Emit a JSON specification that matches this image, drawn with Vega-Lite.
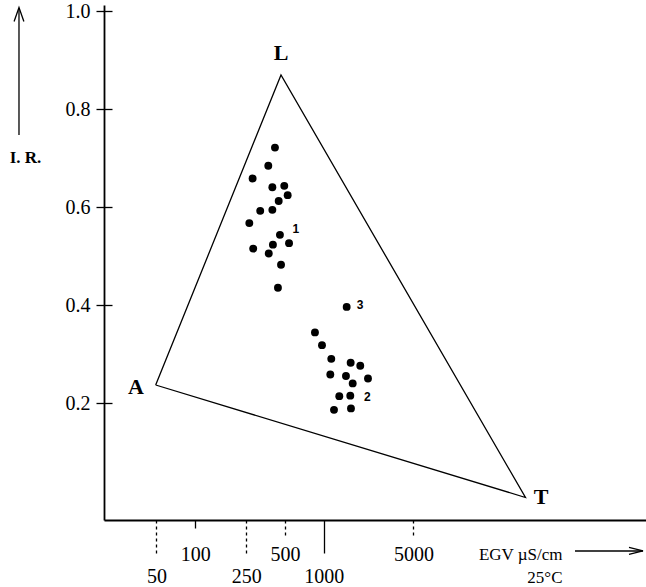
{
  "$schema": "https://vega.github.io/schema/vega-lite/v6.json",
  "width": 542,
  "height": 515,
  "autosize": {"type": "none"},
  "padding": {"left": 104, "top": 5, "right": 0, "bottom": 67},
  "background": "white",
  "config": {
    "view": {"stroke": null},
    "font": "Liberation Serif",
    "axis": {"grid": false, "domainColor": "black", "tickColor": "black", "labelColor": "black", "titleColor": "black"}
  },
  "datasets": {
    "vertices": [
      {"vertex": "A", "egv": 49.3, "ir": 0.2377, "o": 1},
      {"vertex": "L", "egv": 465.7, "ir": 0.870, "o": 2},
      {"vertex": "T", "egv": 37220, "ir": 0.0082, "o": 3},
      {"vertex": "A", "egv": 49.3, "ir": 0.2377, "o": 4}
    ],
    "samples": [
      {"group": 1, "egv": 418, "ir": 0.722},
      {"group": 1, "egv": 371, "ir": 0.685},
      {"group": 1, "egv": 280, "ir": 0.659},
      {"group": 1, "egv": 399, "ir": 0.641},
      {"group": 1, "egv": 494, "ir": 0.644},
      {"group": 1, "egv": 525, "ir": 0.625},
      {"group": 1, "egv": 447, "ir": 0.613},
      {"group": 1, "egv": 321, "ir": 0.593},
      {"group": 1, "egv": 399, "ir": 0.595},
      {"group": 1, "egv": 264, "ir": 0.568},
      {"group": 1, "egv": 457, "ir": 0.544},
      {"group": 1, "egv": 403, "ir": 0.524},
      {"group": 1, "egv": 538, "ir": 0.527},
      {"group": 1, "egv": 283, "ir": 0.516},
      {"group": 1, "egv": 374, "ir": 0.506},
      {"group": 1, "egv": 466, "ir": 0.483},
      {"group": 1, "egv": 441, "ir": 0.436},
      {"group": 3, "egv": 1511, "ir": 0.397},
      {"group": 2, "egv": 856, "ir": 0.345},
      {"group": 2, "egv": 971, "ir": 0.319},
      {"group": 2, "egv": 1147, "ir": 0.291},
      {"group": 2, "egv": 1623, "ir": 0.283},
      {"group": 2, "egv": 1928, "ir": 0.277},
      {"group": 2, "egv": 1127, "ir": 0.259},
      {"group": 2, "egv": 1492, "ir": 0.256},
      {"group": 2, "egv": 1683, "ir": 0.241},
      {"group": 2, "egv": 2214, "ir": 0.251},
      {"group": 2, "egv": 1324, "ir": 0.215},
      {"group": 2, "egv": 1612, "ir": 0.216},
      {"group": 2, "egv": 1204, "ir": 0.187},
      {"group": 2, "egv": 1632, "ir": 0.190}
    ],
    "letters": [
      {"label": "A", "egv": 34.65, "ir": 0.2336},
      {"label": "L", "egv": 465.7, "ir": 0.915},
      {"label": "T", "egv": 49150, "ir": 0.0092}
    ],
    "groups": [
      {"label": "1", "egv": 609, "ir": 0.556},
      {"label": "2", "egv": 2186, "ir": 0.213},
      {"label": "3", "egv": 1918, "ir": 0.401}
    ],
    "one": [{}]
  },
  "layer": [
    {
      "data": {"name": "vertices"},
      "mark": {"type": "line", "color": "black", "strokeWidth": 1.3, "clip": false},
      "encoding": {
        "x": {"field": "egv", "type": "quantitative",
          "scale": {"type": "log", "domain": [19.53, 322700], "nice": false},
          "axis": {"orient": "bottom", "values": [100, 500, 5000], "format": "d", "ticks": false, "domain": true, "domainWidth": 1.8,
            "labelPadding": 24, "labelFont": "Liberation Serif", "labelFontSize": 20, "labelFlush": false, "labelOverlap": false,
            "title": ["EGV µS/cm", "25°C"], "titleX": 458, "titleY": 39, "titleAlign": "right", "titleBaseline": "alphabetic",
            "titleFont": "Liberation Serif", "titleFontSize": 17, "titleFontWeight": "normal", "titleLineHeight": 23, "titleAngle": 0}},
        "y": {"field": "ir", "type": "quantitative",
          "scale": {"domain": [-0.0377, 1.0129], "nice": false, "zero": false},
          "axis": {"orient": "left", "values": [0.2, 0.4, 0.6, 0.8, 1.0], "format": ".1f", "tickSize": 8, "tickWidth": 1.3, "domainWidth": 1.8,
            "labelPadding": 6, "labelFont": "Liberation Serif", "labelFontSize": 20,
            "title": "I. R.", "titleAngle": 0, "titleX": -79, "titleY": 152, "titleAlign": "center", "titleBaseline": "middle",
            "titleFont": "Liberation Serif", "titleFontSize": 17, "titleFontWeight": "bold"}},
        "order": {"field": "o", "type": "quantitative"}
      }
    },
    {
      "data": {"name": "samples"},
      "mark": {"type": "circle", "color": "black", "opacity": 1, "size": 62, "clip": false},
      "encoding": {
        "x": {"field": "egv", "type": "quantitative",
          "scale": {"type": "log", "domain": [19.53, 322700], "nice": false},
          "axis": {"orient": "bottom", "values": [50, 250, 1000], "format": "d", "ticks": false, "domain": false,
            "labelPadding": 46, "labelFont": "Liberation Serif", "labelFontSize": 20, "labelFlush": false, "labelOverlap": false, "title": null}},
        "y": {"field": "ir", "type": "quantitative",
          "scale": {"domain": [-0.0377, 1.0129], "nice": false, "zero": false},
          "axis": {"orient": "right", "offset": -542, "values": [0.2, 0.4, 0.6, 0.8, 1.0], "tickSize": 8, "tickWidth": 1.3,
            "labels": false, "domain": false, "title": null}}
      }
    },
    {
      "data": {"name": "letters"},
      "mark": {"type": "text", "font": "Liberation Serif", "fontSize": 22, "fontWeight": "bold", "color": "black", "align": "center", "baseline": "middle", "clip": false},
      "encoding": {
        "x": {"field": "egv", "type": "quantitative",
          "scale": {"type": "log", "domain": [19.53, 322700], "nice": false},
          "axis": {"orient": "bottom", "values": [50, 100, 250, 500, 1000, 5000], "labels": false, "domain": false, "title": null,
            "tickWidth": 1.3,
            "tickSize": {"condition": [{"test": "datum.value == 100", "value": 8}, {"test": "datum.value == 500 || datum.value == 5000", "value": 18}, {"test": "datum.value == 1000", "value": 33}], "value": 36},
            "tickDash": {"condition": [{"test": "datum.value == 100 || datum.value == 1000", "value": [1, 0]}], "value": [3, 3]}}},
        "y": {"field": "ir", "type": "quantitative",
          "scale": {"domain": [-0.0377, 1.0129], "nice": false, "zero": false}, "axis": null},
        "text": {"field": "label"}
      }
    },
    {
      "data": {"name": "groups"},
      "mark": {"type": "text", "font": "Liberation Sans", "fontSize": 12, "fontWeight": "bold", "color": "black", "align": "center", "baseline": "middle", "clip": false},
      "encoding": {
        "x": {"field": "egv", "type": "quantitative", "scale": {"type": "log", "domain": [19.53, 322700], "nice": false}, "axis": null},
        "y": {"field": "ir", "type": "quantitative", "scale": {"domain": [-0.0377, 1.0129], "nice": false, "zero": false}, "axis": null},
        "text": {"field": "label"}
      }
    },
    {
      "data": {"name": "one"},
      "mark": {"type": "rule", "color": "black", "strokeWidth": 1.3, "clip": false},
      "encoding": {
        "x": {"datum": 90360, "type": "quantitative", "scale": {"type": "log", "domain": [19.53, 322700], "nice": false}, "axis": null},
        "x2": {"datum": 305600},
        "y": {"datum": -0.1009, "type": "quantitative", "scale": {"domain": [-0.0377, 1.0129], "nice": false, "zero": false}, "axis": null}
      }
    },
    {
      "data": {"name": "one"},
      "mark": {"type": "rule", "color": "black", "strokeWidth": 1.3, "clip": false},
      "encoding": {
        "x": {"datum": 4.257, "type": "quantitative", "scale": {"type": "log", "domain": [19.53, 322700], "nice": false}, "axis": null},
        "y": {"datum": 0.7477, "type": "quantitative", "scale": {"domain": [-0.0377, 1.0129], "nice": false, "zero": false}, "axis": null},
        "y2": {"datum": 1.0068}
      }
    },
    {
      "data": {"name": "one"},
      "mark": {"type": "point", "shape": "M -1 -0.5 L 1 0 L -1 0.5", "filled": false, "stroke": "black", "strokeWidth": 1.3, "size": 196, "opacity": 1, "clip": false},
      "encoding": {
        "x": {"datum": 269700, "type": "quantitative", "scale": {"type": "log", "domain": [19.53, 322700], "nice": false}, "axis": null},
        "y": {"datum": -0.1009, "type": "quantitative", "scale": {"domain": [-0.0377, 1.0129], "nice": false, "zero": false}, "axis": null}
      }
    },
    {
      "data": {"name": "one"},
      "mark": {"type": "point", "shape": "M -0.7 1 L 0 -1 L 0.7 1", "filled": false, "stroke": "black", "strokeWidth": 1.3, "size": 196, "opacity": 1, "clip": false},
      "encoding": {
        "x": {"datum": 4.257, "type": "quantitative", "scale": {"type": "log", "domain": [19.53, 322700], "nice": false}, "axis": null},
        "y": {"datum": 0.9935, "type": "quantitative", "scale": {"domain": [-0.0377, 1.0129], "nice": false, "zero": false}, "axis": null}
      }
    }
  ],
  "resolve": {"axis": {"x": "independent", "y": "independent"}}
}
